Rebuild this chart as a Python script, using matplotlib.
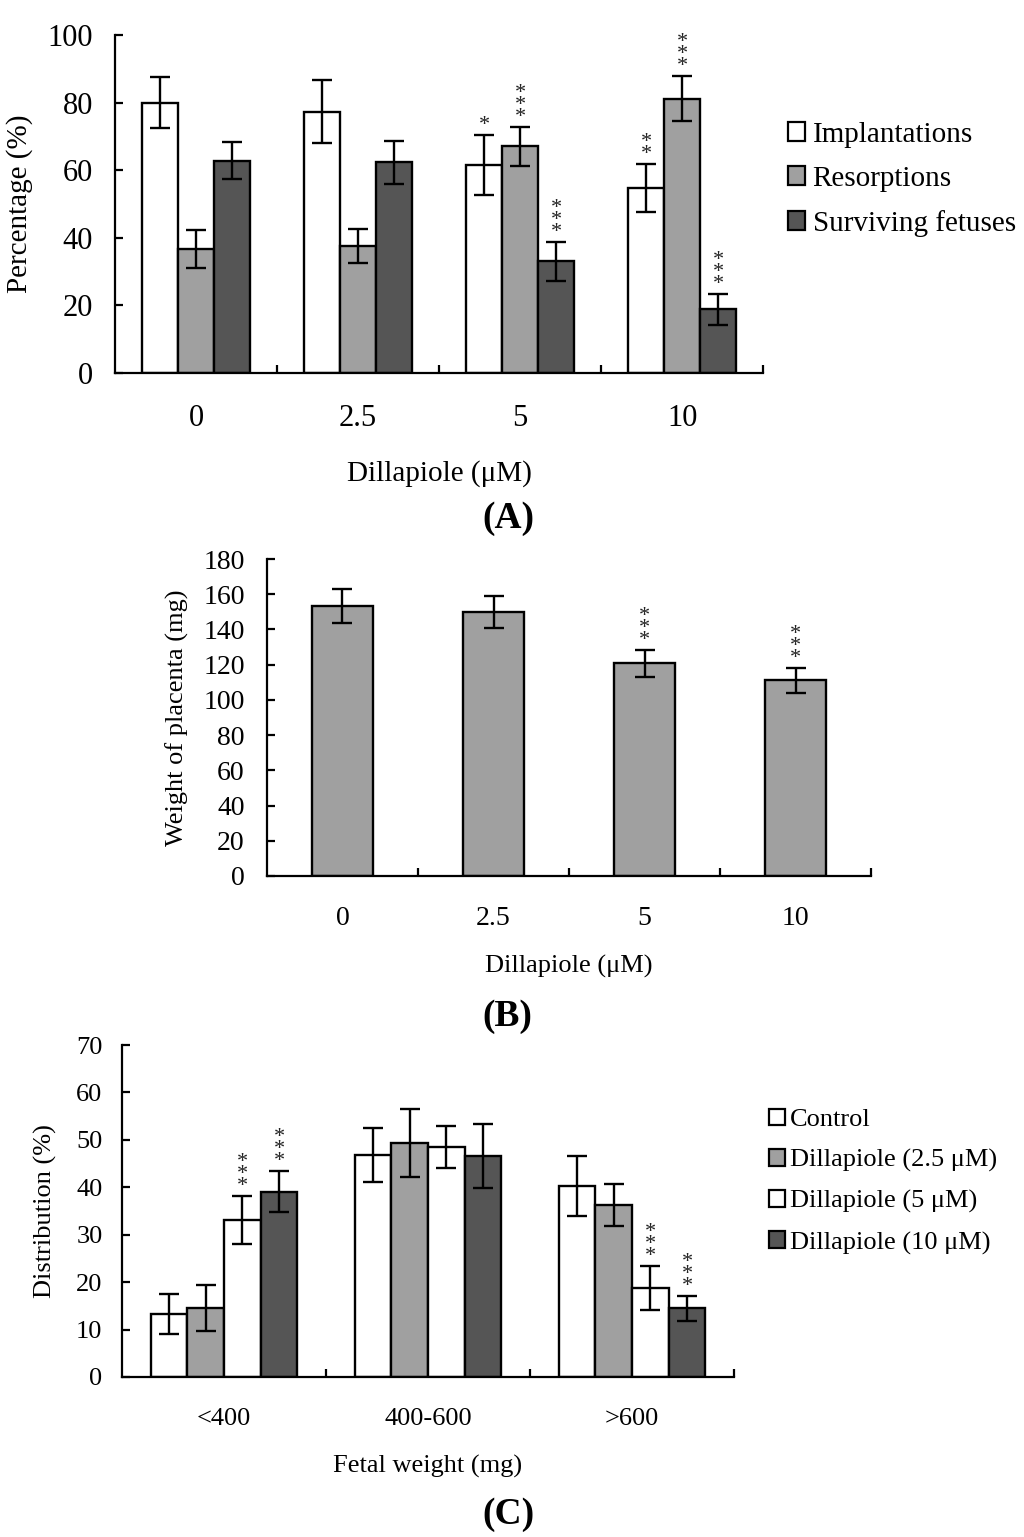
import matplotlib
matplotlib.use("Agg")
import matplotlib.pyplot as plt
from matplotlib.patches import Patch
import numpy as np

plt.rcParams['font.family'] = ['Liberation Serif', 'DejaVu Serif']

# panel A
doses = ["0", "2.5", "5", "10"]
a_series = ["Implantations", "Resorptions", "Surviving fetuses"]
a_vals = [[80.0, 77.3, 61.5, 54.7],
          [36.8, 37.6, 67.1, 81.2],
          [62.8, 62.3, 33.0, 18.9]]
a_err = [[7.5, 9.3, 8.8, 7.2],
         [5.6, 4.9, 5.8, 6.6],
         [5.5, 6.3, 5.9, 4.6]]
a_stars = [["", "", "*", "**"],
           ["", "", "***", "***"],
           ["", "", "***", "***"]]

# panel B
b_vals = [153.2, 149.9, 120.8, 111.0]
b_err = [9.7, 9.0, 7.8, 7.2]
b_stars = ["", "", "***", "***"]

# panel C
weights = ["<400", "400-600", ">600"]
c_series = ["Control", "Dillapiole (2.5 \u03bcM)", "Dillapiole (5 \u03bcM)", "Dillapiole (10 \u03bcM)"]
c_vals = [[13.2, 46.9, 40.3],
          [14.5, 49.4, 36.2],
          [33.1, 48.5, 18.7],
          [39.1, 46.6, 14.5]]
c_err = [[4.2, 5.7, 6.3],
         [4.8, 7.2, 4.4],
         [5.0, 4.4, 4.6],
         [4.4, 6.7, 2.6]]
c_stars = [["", "", ""],
           ["", "", ""],
           ["***", "", "***"],
           ["***", "", "***"]]

WHITE, GRAY, DARK = "#ffffff", "#a0a0a0", "#555555"


def style_axes(ax, n, ymax, ystep, fs, ypad):
    for s in ["top", "right"]:
        ax.spines[s].set_visible(False)
    for s in ["left", "bottom"]:
        ax.spines[s].set_linewidth(1.6)
    ax.set_xlim(-0.5, n - 0.5)
    ax.set_ylim(0, ymax)
    ax.set_yticks(np.arange(0, ymax + 1, ystep))
    ax.tick_params(axis="y", direction="in", length=6, width=1.6, labelsize=fs, pad=ypad)
    ax.set_xticks(np.arange(n))
    ax.tick_params(axis="x", which="major", length=0, labelsize=fs, pad=22)
    ax.set_xticks(np.arange(n) + 0.5, minor=True)
    ax.tick_params(axis="x", which="minor", direction="in", length=6, width=1.6)


def stars(ax, x, top, txt, fs=16):
    if txt:
        ax.annotate("\n".join(txt), (x, top), xytext=(0, 0), textcoords="offset points",
                    ha="center", va="bottom", fontsize=fs, linespacing=0.5, color="#222222")


def grouped(ax, vals, errs, star_lists, colors, width):
    k = len(vals)
    x = np.arange(len(vals[0]))
    for i in range(k):
        pos = x - width * k / 2 + width * (i + 0.5)
        ax.bar(pos, vals[i], width, color=colors[i], edgecolor="black", linewidth=1.7,
               yerr=errs[i], capsize=7, error_kw=dict(elinewidth=1.7, capthick=1.7, ecolor="black"))
        for j in range(len(x)):
            stars(ax, pos[j], vals[i][j] + errs[i][j], star_lists[i][j])


fig = plt.figure(figsize=(10.24, 15.37), dpi=100)

# (A)
axA = fig.add_axes([0.1123, 0.7573, 0.633, 0.2199])
grouped(axA, a_vals, a_err, a_stars, [WHITE, GRAY, DARK], 2 / 9)
style_axes(axA, 4, 100, 20, 22, 16)
axA.set_xticklabels(doses)
axA.set_xlabel("Dillapiole (\u03bcM)", fontsize=21, labelpad=20)
axA.set_ylabel("Percentage (%)", fontsize=21, labelpad=10)
axA.legend(handles=[Patch(facecolor=c, edgecolor="black", linewidth=1.6) for c in [WHITE, GRAY, DARK]],
           labels=a_series, loc="upper left", bbox_to_anchor=(1.02, 0.778), frameon=False,
           fontsize=21, handlelength=0.6, handleheight=0.6, handletextpad=0.25, labelspacing=0.62,
           borderaxespad=0)
fig.text(508 / 1024, 1 - 519 / 1537, "(A)", ha="center", va="center", fontsize=27, fontweight="bold")

# (B)
axB = fig.add_axes([0.2607, 0.4301, 0.590, 0.2062])
axB.bar(np.arange(4), b_vals, 0.4, color=GRAY, edgecolor="black", linewidth=1.7,
        yerr=b_err, capsize=7, error_kw=dict(elinewidth=1.7, capthick=1.7, ecolor="black"))
for j in range(4):
    stars(axB, j, b_vals[j] + b_err[j], b_stars[j])
style_axes(axB, 4, 180, 20, 20, 16)
axB.set_xticklabels(doses)
axB.set_xlabel("Dillapiole (\u03bcM)", fontsize=19, labelpad=17)
axB.set_ylabel("Weight of placenta (mg)", fontsize=19, labelpad=10)
fig.text(507 / 1024, 1 - 1016 / 1537, "(B)", ha="center", va="center", fontsize=27, fontweight="bold")

# (C)
axC = fig.add_axes([0.1191, 0.1041, 0.5977, 0.2160])
grouped(axC, c_vals, c_err, c_stars, [WHITE, GRAY, WHITE, DARK], 0.18)
style_axes(axC, 3, 70, 10, 19, 14)
axC.set_xticklabels(weights)
axC.set_xlabel("Fetal weight (mg)", fontsize=19, labelpad=18)
axC.set_ylabel("Distribution (%)", fontsize=19, labelpad=14)
axC.legend(handles=[Patch(facecolor=c, edgecolor="black", linewidth=1.6) for c in [WHITE, GRAY, WHITE, DARK]],
           labels=c_series, loc="upper left", bbox_to_anchor=(1.04, 0.84), frameon=False,
           fontsize=19, handlelength=0.6, handleheight=0.6, handletextpad=0.2, labelspacing=0.68,
           borderaxespad=0)
fig.text(508 / 1024, 1 - 1514 / 1537, "(C)", ha="center", va="center", fontsize=27, fontweight="bold")

fig.savefig("out.png", dpi=100)
